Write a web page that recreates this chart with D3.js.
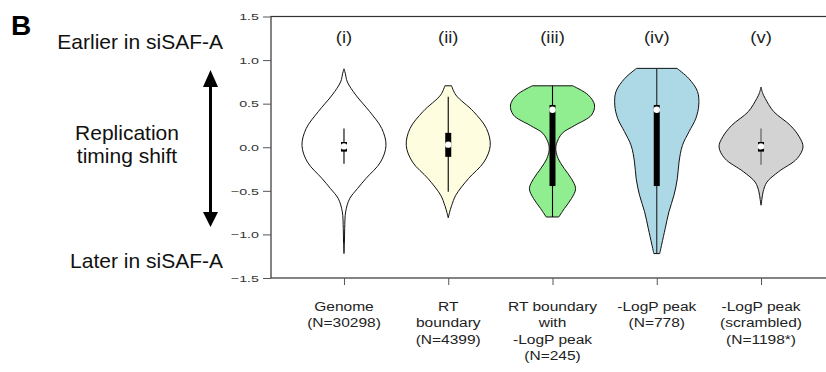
<!DOCTYPE html>
<html>
<head>
<meta charset="utf-8">
<script src="https://cdn.jsdelivr.net/npm/d3@7"></script>
<style>
  html, body { margin: 0; padding: 0; background: #fff; }
  svg { display: block; font-family: "Liberation Sans", Arial, sans-serif; }
</style>
</head>
<body>
<svg id="chart" width="826" height="372"></svg>
<script>
// ---------------- data ----------------
const categories = ["Genome", "RT boundary", "RT boundary with -LogP peak", "-LogP peak", "-LogP peak (scrambled)"];
const categoryLabels = [
  ["Genome", "(N=30298)"],
  ["RT", "boundary", "(N=4399)"],
  ["RT boundary", "with", "-LogP peak", "(N=245)"],
  ["-LogP peak", "(N=778)"],
  ["-LogP peak", "(scrambled)", "(N=1198*)"]
];
const numerals = ["(i)", "(ii)", "(iii)", "(iv)", "(v)"];
const yTicks = [-1.5, -1.0, -0.5, 0.0, 0.5, 1.0, 1.5];

// violin outlines: [value, relative density (0..1)]
const genomeDensity = [[0.90,0],[0.85,0.03],[0.75,0.08],[0.60,0.28],[0.41,0.61],[0.215,0.90],[0.02,1.0],[-0.17,0.87],[-0.36,0.52],[-0.475,0.32],[-0.59,0.135],[-0.74,0.04],[-0.93,0.017],[-1.10,0.01],[-1.22,0]];
const rtDensity = [[0.705,0.08],[0.60,0.18],[0.41,0.60],[0.215,0.91],[0.02,1.0],[-0.17,0.85],[-0.36,0.48],[-0.55,0.18],[-0.67,0.08],[-0.75,0.03],[-0.81,0]];
const rtPeakDensity = [[0.705,0.48],[0.60,0.85],[0.485,1.0],[0.37,0.93],[0.25,0.53],[0.16,0.23],[0.04,0.095],[-0.035,0.08],[-0.13,0.135],[-0.245,0.28],[-0.36,0.45],[-0.475,0.55],[-0.59,0.45],[-0.705,0.28],[-0.80,0.15]];
const peakDensity = [[0.905,0.48],[0.79,0.76],[0.64,0.97],[0.485,1.0],[0.33,0.93],[0.18,0.77],[0.02,0.61],[-0.17,0.53],[-0.36,0.49],[-0.55,0.41],[-0.74,0.29],[-0.935,0.20],[-1.11,0.12],[-1.22,0.07]];
const scrambledDensity = [[0.69,0],[0.62,0.04],[0.56,0.10],[0.41,0.30],[0.25,0.70],[0.12,0.91],[0.005,1.0],[-0.13,0.86],[-0.28,0.42],[-0.40,0.14],[-0.51,0.05],[-0.60,0.02],[-0.665,0]];
const densities = [genomeDensity, rtDensity, rtPeakDensity, peakDensity, scrambledDensity];

// box summaries
const whiskerLow  = [-0.19, -0.51, -0.80, -1.22, -0.20];
const q1          = [-0.05, -0.11, -0.445, -0.445, -0.05];
const medians     = [0.01, 0.03, 0.43, 0.43, 0.01];
const q3          = [0.06, 0.165, 0.485, 0.485, 0.06];
const whiskerHigh = [0.215, 0.58, 0.705, 0.905, 0.215];

const fills = ["#ffffff", "#fffde0", "#90ee90", "#add8e6", "#d3d3d3"];
const whiskerColors = ["#000", "#000", "#000", "#222", "#555"];

// ---------------- layout ----------------
const svg = d3.select("#chart");
const plot = { left: 271, right: 834, top: 16.5, bottom: 278 };
const halfWidth = 42;

const x = d3.scalePoint().domain(categories).range([plot.left, plot.right]).padding(0.7);
const y = d3.scaleLinear().domain([-1.5, 1.5]).range([plot.bottom, plot.top]);
const w = d3.scaleLinear().domain([0, 1]).range([0, halfWidth]);

// frame
svg.append("rect")
  .attr("x", plot.left).attr("y", plot.top)
  .attr("width", plot.right - plot.left).attr("height", plot.bottom - plot.top)
  .attr("fill", "none").attr("stroke", "#333").attr("stroke-width", 1.2);

// y axis
const yAxis = svg.append("g").attr("transform", `translate(${plot.left},0)`)
  .call(d3.axisLeft(y).tickValues(yTicks).tickFormat(d3.format(".1f")).tickSize(8).tickSizeOuter(0));
yAxis.select(".domain").remove();
yAxis.selectAll(".tick line").attr("stroke", "#555");
yAxis.selectAll(".tick text")
  .attr("x", null).attr("dy", "0.34em")
  .attr("transform", "translate(-12,0) scale(1.5,1)")
  .attr("font-size", 9.5).attr("fill", "#333")
  .attr("font-family", "'Liberation Sans', Arial, sans-serif");

// x axis (ticks only)
const xAxis = svg.append("g").attr("transform", `translate(0,${plot.bottom})`)
  .call(d3.axisBottom(x).tickSize(7).tickFormat(""));
xAxis.select(".domain").remove();
xAxis.selectAll(".tick line").attr("stroke", "#555");

// category labels
categories.forEach((c, i) => {
  const t = svg.append("text")
    .attr("transform", `translate(${x(c)},311) scale(1.15,1)`)
    .attr("text-anchor", "middle").attr("font-size", 13.5).attr("fill", "#222");
  categoryLabels[i].forEach((line, j) => {
    t.append("tspan").attr("x", 0).attr("y", j * 16.3).text(line);
  });
});

// numerals
categories.forEach((c, i) => {
  svg.append("text")
    .attr("transform", `translate(${x(c)},43) scale(1.12,1)`)
    .attr("text-anchor", "middle").attr("font-size", 16.5).attr("fill", "#222")
    .text(numerals[i]);
});

// violins
categories.forEach((c, i) => {
  const cx = x(c);
  const area = d3.area()
    .y(d => y(d[0]))
    .x0(d => cx - w(d[1]))
    .x1(d => cx + w(d[1]))
    .curve(d3.curveCatmullRom.alpha(0.5));
  svg.append("path")
    .attr("d", area(densities[i]))
    .attr("fill", fills[i]).attr("stroke", "#111").attr("stroke-width", 1);
  // whisker
  svg.append("line")
    .attr("x1", cx).attr("x2", cx)
    .attr("y1", y(whiskerLow[i])).attr("y2", y(whiskerHigh[i]))
    .attr("stroke", whiskerColors[i]).attr("stroke-width", 1.1);
  // box
  svg.append("rect")
    .attr("x", cx - 3).attr("width", 6)
    .attr("y", y(q3[i])).attr("height", y(q1[i]) - y(q3[i]))
    .attr("fill", "#000");
  // median
  svg.append("circle")
    .attr("cx", cx).attr("cy", y(medians[i])).attr("r", 3.2)
    .attr("fill", "#fff");
});

// left annotations
svg.append("text").attr("x", 11).attr("y", 35)
  .attr("font-size", 28).attr("font-weight", "bold").attr("fill", "#000").text("B");
svg.append("text").attr("x", 223).attr("y", 49.3).attr("text-anchor", "end")
  .attr("font-size", 21).attr("fill", "#111").text("Earlier in siSAF-A");
svg.append("text").attr("x", 223).attr("y", 268.3).attr("text-anchor", "end")
  .attr("font-size", 21).attr("fill", "#111").text("Later in siSAF-A");
const rt = svg.append("text").attr("text-anchor", "middle").attr("font-size", 21).attr("fill", "#111");
rt.append("tspan").attr("x", 127).attr("y", 140).text("Replication");
rt.append("tspan").attr("x", 127).attr("y", 162.7).text("timing shift");

// double arrow
const ax = 210.5;
svg.append("line").attr("x1", ax).attr("x2", ax).attr("y1", 85).attr("y2", 214)
  .attr("stroke", "#000").attr("stroke-width", 3);
svg.append("path").attr("d", `M${ax},70 L${ax - 7.5},87 L${ax + 7.5},87 Z`).attr("fill", "#000");
svg.append("path").attr("d", `M${ax},227 L${ax - 7.5},212 L${ax + 7.5},212 Z`).attr("fill", "#000");
</script>
</body>
</html>
